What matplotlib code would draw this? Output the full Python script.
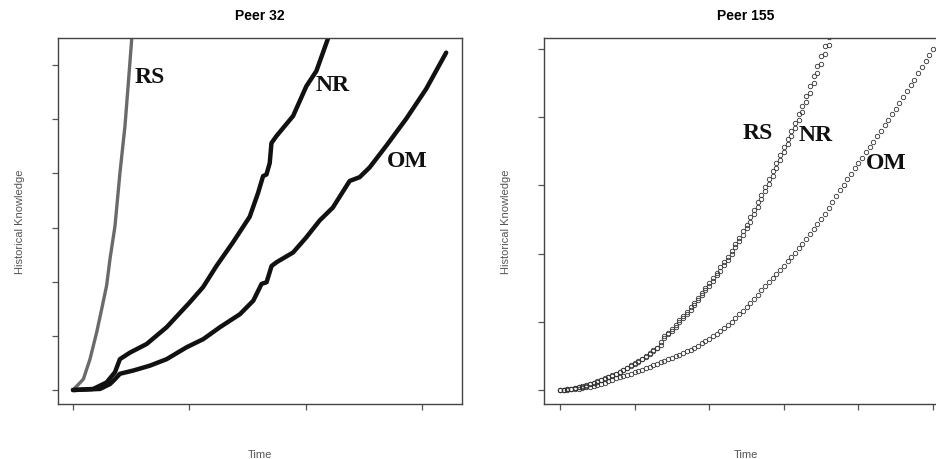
import numpy as np
import matplotlib
matplotlib.use("Agg")
import matplotlib.pyplot as plt

# ---- Peer 32 (left panel), solid curves ----
rs32_t = [0, 8.9, 14.6, 20.4, 24.7, 28.9, 31.8, 36.1, 40.4, 44.7, 47.6, 50.5, 53.0]
rs32_k = [0, 0.20, 0.57, 1.07, 1.50, 1.93, 2.42, 3.03, 4.02, 4.88, 5.68, 6.49, 7.20]

nr32_t = [0, 17.4, 28.9, 36.1, 40.3, 48.9, 63.3, 80.5, 100.4, 111.8, 123.3, 137.6, 151.9,
          159.1, 163.4, 166.3, 169.1, 170.6, 174.9, 189.2, 200.6, 209.2, 219.2, 224.0]
nr32_k = [0, 0.02, 0.14, 0.33, 0.57, 0.69, 0.85, 1.16, 1.62, 1.90, 2.29, 2.73, 3.20,
          3.64, 3.95, 3.98, 4.19, 4.56, 4.69, 5.06, 5.61, 5.89, 6.49, 6.80]

om32_t = [0, 23.2, 31.8, 36.1, 40.3, 51.8, 66.1, 80.5, 97.7, 112.0, 126.3, 143.5, 155.0,
          162.1, 166.4, 170.7, 175.0, 189.2, 200.6, 212.0, 223.4, 237.8, 246.4, 255.0,
          269.3, 286.5, 303.6, 320.8]
om32_k = [0, 0.02, 0.11, 0.20, 0.30, 0.36, 0.45, 0.57, 0.79, 0.94, 1.16, 1.40, 1.65,
          1.96, 1.99, 2.29, 2.36, 2.54, 2.82, 3.13, 3.37, 3.86, 3.93, 4.11,
          4.51, 5.01, 5.56, 6.23]

# ---- Peer 155 (right panel), one marker per time step ----
rs155_k = [0.00, 0.005, 0.012, 0.02, 0.03, 0.04, 0.055, 0.07, 0.09, 0.11, 0.13, 0.15, 0.17,
           0.195, 0.22, 0.24, 0.27, 0.30, 0.33, 0.36, 0.39, 0.42, 0.46, 0.50, 0.54, 0.58,
           0.62, 0.70, 0.79, 0.84, 0.89, 0.95, 1.02, 1.08, 1.15, 1.21, 1.28, 1.35, 1.42,
           1.50, 1.57, 1.64, 1.72, 1.80, 1.87, 1.95, 2.04, 2.14, 2.23, 2.33, 2.42, 2.53,
           2.64, 2.75, 2.86, 2.97, 3.09, 3.21, 3.33, 3.44, 3.56, 3.68, 3.80, 3.92, 4.04,
           4.16, 4.31, 4.46, 4.60, 4.75, 4.90, 5.04, 5.18, 5.32]
nr155_k = [0.00, 0.004, 0.01, 0.018, 0.028, 0.038, 0.05, 0.065, 0.083, 0.10, 0.12, 0.14, 0.16,
           0.185, 0.21, 0.235, 0.26, 0.29, 0.32, 0.35, 0.38, 0.41, 0.45, 0.49, 0.53, 0.57,
           0.61, 0.66, 0.76, 0.82, 0.87, 0.93, 0.99, 1.05, 1.12, 1.18, 1.25, 1.32, 1.39,
           1.46, 1.53, 1.60, 1.68, 1.75, 1.83, 1.91, 2.00, 2.09, 2.18, 2.27, 2.37, 2.47,
           2.58, 2.69, 2.80, 2.91, 3.02, 3.14, 3.25, 3.37, 3.49, 3.61, 3.72, 3.84, 3.96,
           4.08, 4.22, 4.36, 4.50, 4.64, 4.78, 4.92, 5.06, 5.20, 5.34]
om155_k = [0.00, 0.002, 0.005, 0.009, 0.014, 0.02, 0.028, 0.037, 0.047, 0.058, 0.07, 0.088,
           0.106, 0.127, 0.148, 0.17, 0.188, 0.206, 0.224, 0.242, 0.26, 0.28, 0.30, 0.32,
           0.34, 0.36, 0.382, 0.404, 0.426, 0.448, 0.47, 0.494, 0.518, 0.542, 0.566, 0.59,
           0.62, 0.652, 0.684, 0.716, 0.75, 0.788, 0.828, 0.868, 0.908, 0.95, 1.002, 1.056,
           1.11, 1.164, 1.22, 1.28, 1.34, 1.40, 1.46, 1.52, 1.58, 1.64, 1.70, 1.76, 1.82,
           1.884, 1.948, 2.012, 2.076, 2.14, 2.212, 2.284, 2.356, 2.428, 2.50, 2.586, 2.672,
           2.758, 2.844, 2.93, 3.01, 3.09, 3.17, 3.25, 3.33, 3.408, 3.486, 3.564, 3.642,
           3.72, 3.80, 3.88, 3.96, 4.04, 4.12, 4.206, 4.292, 4.378, 4.464, 4.55, 4.64, 4.73,
           4.82, 4.91, 5.00]
step155 = 5

rs155_t = np.arange(len(rs155_k)) * step155
nr155_t = np.arange(len(nr155_k)) * step155
om155_t = np.arange(len(om155_k)) * step155

fig = plt.figure(figsize=(9.36, 4.6), dpi=100)
axL = fig.add_axes([58 / 936, 1 - 405 / 460, 404 / 936, 366 / 460])
axR = fig.add_axes([544 / 936, 1 - 405 / 460, 404 / 936, 366 / 460])

axL.plot(rs32_t, rs32_k, color="#6a6a6a", lw=2.4, solid_capstyle="round")
axL.plot(nr32_t, nr32_k, color="#111111", lw=3.2, solid_capstyle="round")
axL.plot(om32_t, om32_k, color="#111111", lw=3.2, solid_capstyle="round")
axL.set_xlim(-12.9, 334.4)
axL.set_ylim(-0.258, 6.50)
axL.set_xticks([0, 100, 200, 300])
axL.set_yticks(range(0, 7))

mk = dict(ls="none", marker="o", ms=3.2, mfc="none", mec="#333333", mew=0.6)
axR.plot(rs155_t, rs155_k, **mk)
axR.plot(nr155_t, nr155_k, **mk)
axR.plot(om155_t, om155_k, **mk)
axR.set_xlim(-21.4, 520.0)
axR.set_ylim(-0.205, 5.16)
axR.set_xticks(range(0, 501, 100))
axR.set_yticks(range(0, 6))

lab = dict(family="Liberation Serif", fontweight="bold", fontsize=17,
           ha="center", va="center", color="#111111")
axL.text(66, 5.79, "RS", **lab)
axL.text(223, 5.65, "NR", **lab)
axL.text(287, 4.23, "OM", **lab)
axR.text(265, 3.77, "RS", **lab)
axR.text(343, 3.74, "NR", **lab)
axR.text(437, 3.34, "OM", **lab)

for ax, title in [(axL, "Peer 32"), (axR, "Peer 155")]:
    ax.set_xticklabels([])
    ax.set_yticklabels([])
    ax.tick_params(direction="out", length=4, width=0.9, color="#555555")
    for s in ax.spines.values():
        s.set_color("#444444")
        s.set_linewidth(1.0)
    ax.set_title(title, fontsize=10, fontweight="bold", family="Liberation Sans", pad=14)
    ax.set_xlabel("Time", fontsize=8, color="#555555", family="Liberation Sans", labelpad=25)
    ax.set_ylabel("Historical Knowledge", fontsize=8, color="#555555",
                  family="Liberation Sans", labelpad=16)

fig.savefig("out.png", dpi=100)
